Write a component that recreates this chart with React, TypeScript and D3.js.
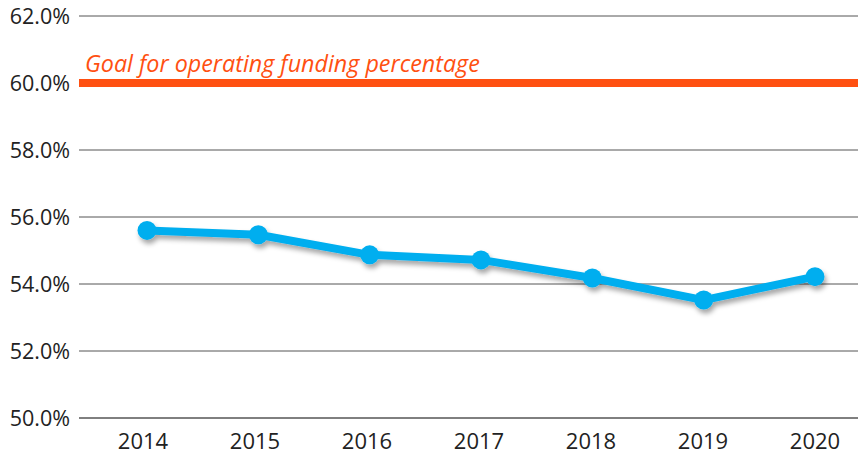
import React from "react";
import * as d3 from "d3";

const years = ["2014", "2015", "2016", "2017", "2018", "2019", "2020"];
const values = [55.6, 55.47, 54.87, 54.72, 54.18, 53.52, 54.22];
const yTicks = [50, 52, 54, 56, 58, 60, 62];
const goalValue = 60;
const goalLabel = "Goal for operating funding percentage";

const W = 858;
const H = 459;

export default function App() {
  const x = d3.scalePoint<string>().domain(years).range([147, 815]);
  const xLabel = d3.scalePoint<string>().domain(years).range([143, 815]);
  const y = d3.scaleLinear().domain([50, 62]).range([418, 16]);
  const line = d3
    .line<number>()
    .x((_, i) => x(years[i]) as number)
    .y((d) => y(d));
  const font = "'Open Sans', 'Noto Sans', sans-serif";
  return (
    <svg
      width={W}
      height={H}
      style={{ position: "fixed", left: 0, top: 0, background: "#fff" }}
      fontFamily={font}
    >
      <defs>
        <filter id="shadow" x="-20%" y="-50%" width="140%" height="200%">
          <feDropShadow dx="2" dy="4" stdDeviation="2.5" floodColor="#000" floodOpacity="0.35" />
        </filter>
      </defs>
      {yTicks.map((t) => (
        <g key={t}>
          <line
            x1={79}
            x2={858}
            y1={y(t)}
            y2={y(t)}
            stroke={t === 50 ? "#000" : "#555"}
            strokeWidth={1}
          />
          <text
            x={70}
            y={y(t)}
            dy="0.36em"
            textAnchor="end"
            fontSize={21.5}
            fill="#222"
          >
            {t.toFixed(1)}%
          </text>
        </g>
      ))}
      <line
        x1={79}
        x2={858}
        y1={y(goalValue)}
        y2={y(goalValue)}
        stroke="#FF5011"
        strokeWidth={8}
      />
      <text
        x={85}
        y={y(goalValue) - 11}
        fontSize={23.3}
        fontStyle="italic"
        fill="#FF5011"
      >
        {goalLabel}
      </text>
      {years.map((yr) => (
        <text
          key={yr}
          x={xLabel(yr) as number}
          y={449}
          textAnchor="middle"
          fontSize={22}
          fill="#222"
        >
          {yr}
        </text>
      ))}
      <g filter="url(#shadow)">
        <path
          d={line(values) || ""}
          fill="none"
          stroke="#00AEEF"
          strokeWidth={8}
          strokeLinejoin="round"
        />
        {values.map((v, i) => (
          <circle key={i} cx={x(years[i]) as number} cy={y(v)} r={9.5} fill="#00AEEF" />
        ))}
      </g>
    </svg>
  );
}
